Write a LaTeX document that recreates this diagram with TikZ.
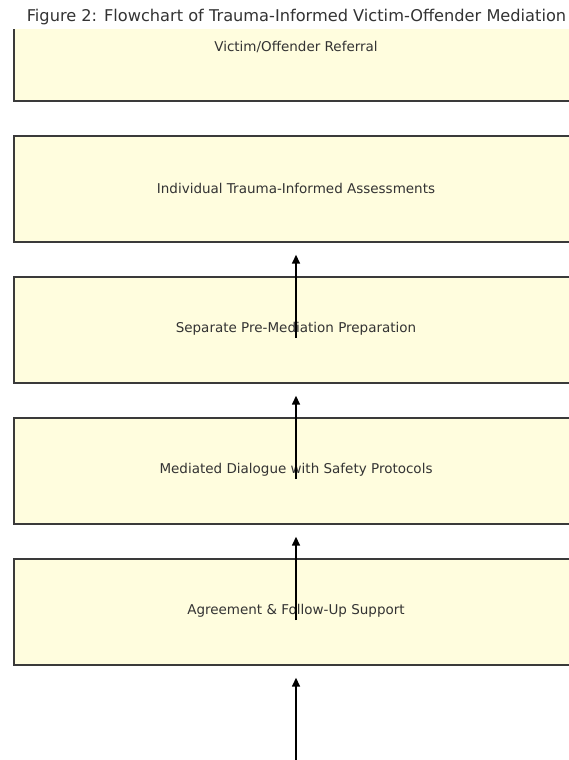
\documentclass[tikz,border=0pt]{standalone}
\usepackage{fontspec}
\setmainfont{DejaVu Sans}
\usetikzlibrary{arrows.meta}
\definecolor{boxfill}{HTML}{FFFDDE}
\definecolor{boxline}{HTML}{3A3A3A}
\definecolor{txt}{HTML}{333333}
\tikzset{
  stagebox/.style={draw=boxline, fill=boxfill, line width=1.5pt, minimum width=566pt, minimum height=106pt, inner sep=0pt, anchor=north west},
  stagelabel/.style={text=txt, font=\fontsize{13.5pt}{16pt}\selectfont},
  flowarrow/.style={line width=2.3pt, draw=black, -{Triangle[length=9pt,width=7.5pt]}}
}
\begin{document}
\begin{tikzpicture}[x=1pt,y=-1pt]
\useasboundingbox (0,0) rectangle (569,760);
\fill[white] (0,0) rectangle (569,760);
\node[text=txt, font=\fontsize{16.2pt}{19pt}\selectfont, anchor=center] (title) at (296.5,17) {Figure 2: Flowchart of Trauma-Informed Victim-Offender Mediation};
\begin{scope}
\clip (0,30) rectangle (569,760);
\node[stagebox] (b1) at (13,-6) {};
\node[stagebox] (b2) at (13,135) {};
\node[stagebox] (b3) at (13,276) {};
\node[stagebox] (b4) at (13,417) {};
\node[stagebox] (b5) at (13,558) {};
\node[stagelabel] (l1) at (296,47) {Victim/Offender Referral};
\node[stagelabel] (l2) at (296,188) {Individual Trauma-Informed Assessments};
\node[stagelabel] (l3) at (296,329) {Separate Pre-Mediation Preparation};
\node[stagelabel] (l4) at (296,470) {Mediated Dialogue with Safety Protocols};
\node[stagelabel] (l5) at (296,611) {Agreement \& Follow-Up Support};
\coordinate (t3) at (296,338);
\coordinate (t4) at (296,479);
\coordinate (t5) at (296,620);
\coordinate (t6) at (296,764);
\draw[flowarrow] (t3) -- ([yshift=-12pt]l2.center |- b2.south);
\draw[flowarrow] (t4) -- ([yshift=-12pt]l3.center |- b3.south);
\draw[flowarrow] (t5) -- ([yshift=-12pt]l4.center |- b4.south);
\draw[flowarrow] (t6) -- ([yshift=-12pt]l5.center |- b5.south);
\end{scope}
\end{tikzpicture}
\end{document}
